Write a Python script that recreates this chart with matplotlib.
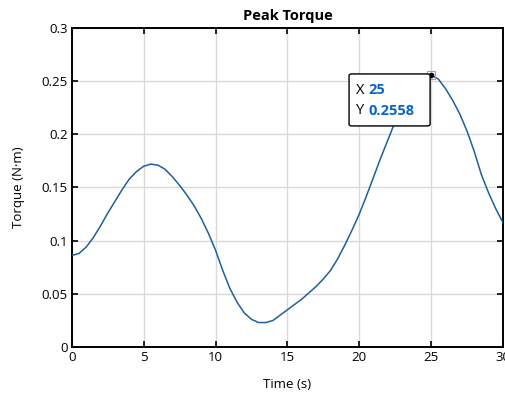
"""
# Peak torque over time, with a data tip at the peak
"""

### Packages
import matplotlib
matplotlib.use("Agg")
import matplotlib.pyplot as plt
from matplotlib.patches import FancyBboxPatch

### Data
time_s = [0, 0.5, 1, 1.5, 2, 2.5, 3, 3.5, 4, 4.5, 5, 5.5, 6, 6.5, 7, 7.5, 8, 8.5,
          9, 9.5, 10, 10.5, 11, 11.5, 12, 12.5, 13, 13.5, 14, 14.5, 15, 15.5, 16,
          16.5, 17, 17.5, 18, 18.5, 19, 19.5, 20, 20.5, 21, 21.5, 22, 22.5, 23,
          23.5, 24, 24.5, 25, 25.5, 26, 26.5, 27, 27.5, 28, 28.5, 29, 29.5, 30]
torque = [0.086, 0.088, 0.094, 0.103, 0.114, 0.126, 0.137, 0.148, 0.158, 0.165,
          0.170, 0.172, 0.171, 0.167, 0.160, 0.152, 0.143, 0.133, 0.121, 0.107,
          0.091, 0.072, 0.055, 0.042, 0.032, 0.026, 0.023, 0.023, 0.025, 0.030,
          0.035, 0.040, 0.045, 0.051, 0.057, 0.064, 0.072, 0.083, 0.096, 0.110,
          0.125, 0.142, 0.160, 0.178, 0.195, 0.212, 0.227, 0.239, 0.248, 0.254,
          0.2558, 0.252, 0.243, 0.232, 0.219, 0.203, 0.184, 0.162, 0.145, 0.130,
          0.117]
x_ticks = [0, 5, 10, 15, 20, 25, 30]
y_ticks = [0, 0.05, 0.1, 0.15, 0.2, 0.25, 0.3]
y_tick_labels = ["0", "0.05", "0.1", "0.15", "0.2", "0.25", "0.3"]
tip_x = 25
tip_y = 0.2558

### Plot
plt.rcParams['font.family'] = ['Open Sans', 'DejaVu Sans']
fig = plt.figure(figsize=(5.06, 4.0), dpi=100)
ax = fig.add_axes([0.142, 0.1325, 0.852, 0.7975])

ax.plot(time_s, torque, color='#1f5f9c', linewidth=1.1, zorder=3)

# Axes look (MATLAB style box, ticks inside on all sides)
ax.set_xlim(0, 30)
ax.set_ylim(0, 0.3)
ax.set_xticks(x_ticks)
ax.set_yticks(y_ticks)
ax.set_yticklabels(y_tick_labels)
ax.tick_params(direction='in', length=4, width=1.2, top=True, right=True,
               labelsize=9.5, colors='black', pad=3)
ax.grid(True, color='#d9d9d9', linewidth=1.0)
ax.set_axisbelow(True)
for spine in ax.spines.values():
    spine.set_linewidth(1.4)
    spine.set_color('black')

ax.set_title("Peak Torque", fontsize=10.5, fontweight='bold', pad=6)
ax.set_xlabel("Time (s)", fontsize=9.5, labelpad=10)
ax.set_ylabel("Torque (N\u00b7m)", fontsize=9.5, labelpad=12)

# Data tip marker
ax.plot([tip_x], [tip_y], marker='s', markersize=6, markerfacecolor='none',
        markeredgecolor='#f08080', markeredgewidth=0.8, zorder=5)
ax.plot([tip_x], [tip_y], marker='o', markersize=3, color='black', zorder=6)

# Data tip box (axes fraction placement)
tip_box = FancyBboxPatch((0.643, 0.693), 0.188, 0.163,
                         boxstyle='round,pad=0,rounding_size=0.006',
                         transform=ax.transAxes, facecolor='white',
                         edgecolor='black', linewidth=1.0, zorder=7)
ax.add_patch(tip_box)
ax.text(0.660, 0.805, "X", transform=ax.transAxes, fontsize=10.5,
        va='center', ha='left', color='black', zorder=8)
ax.text(0.660, 0.740, "Y", transform=ax.transAxes, fontsize=10.5,
        va='center', ha='left', color='black', zorder=8)
ax.text(0.688, 0.805, "25", transform=ax.transAxes, fontsize=10.5,
        fontweight='bold', va='center', ha='left', color='#0a64c8', zorder=8)
ax.text(0.688, 0.740, "0.2558", transform=ax.transAxes, fontsize=10.5,
        fontweight='bold', va='center', ha='left', color='#0a64c8', zorder=8)

plt.savefig("out.png", dpi=100)
